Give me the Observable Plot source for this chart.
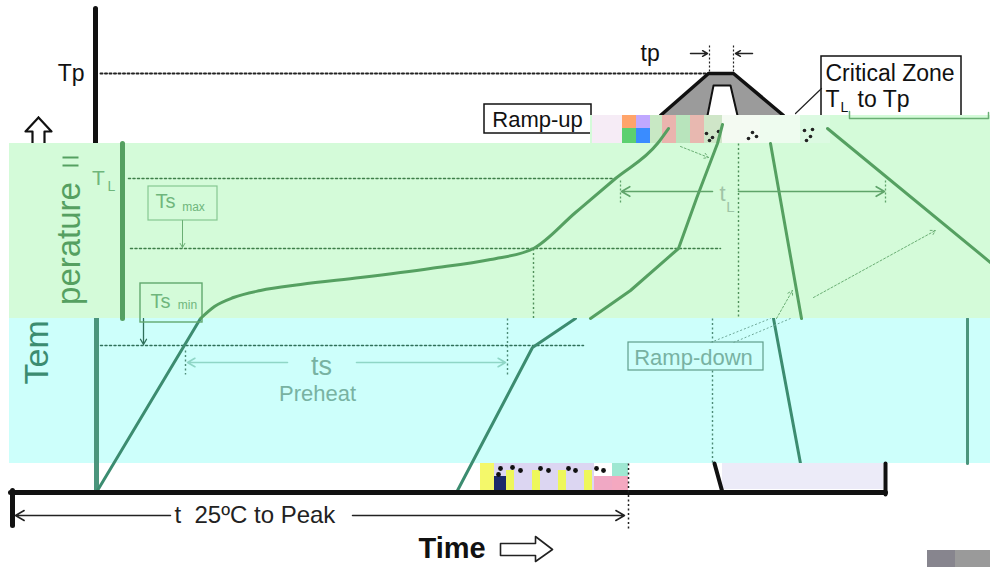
<!DOCTYPE html>
<html>
<head>
<meta charset="utf-8">
<script src="https://cdn.jsdelivr.net/npm/d3@7"></script>
<script src="https://cdn.jsdelivr.net/npm/@observablehq/plot@0.6"></script>
<style>
  html, body { margin: 0; padding: 0; background: #ffffff; }
  #chart svg { display: block; }
</style>
</head>
<body>
<div id="chart"></div>
<script>
// Schematic reflow profile, values in schematic units
// (time along x, temperature level along y, top = hot).

// ---- top (original) part ----
const axisTop = [{t: 95, a: 8}, {t: 95, a: 143}];
const tpLevel = [{t: 100, a: 73}, {t: 708, a: 73}];
const peakOuter = [{t: 660, a: 115}, {t: 708, a: 73}, {t: 733, a: 73}, {t: 783, a: 115}];
const peakInner = [{t: 707, a: 115}, {t: 713, a: 85}, {t: 730, a: 85}, {t: 737, a: 115}];
const tpTicks = [
  {t: 709, a1: 45, a2: 73}, {t: 733, a1: 45, a2: 73}
];
const tpArrows = [
  {t1: 690, t2: 707, a: 53}, {t1: 752, t2: 735, a: 53}
];
const rampUpBox = [{t1: 484, t2: 591, a1: 104, a2: 133}];
const criticalBox = [{t1: 821, t2: 961, a1: 56, a2: 130}];
const criticalPointer = [{t: 821, a: 88}, {t: 795, a: 113}];
const rampUpPointers = [
  {t1: 592, a1: 117, t2: 622, a2: 128},
  {t1: 592, a1: 120, t2: 610, a2: 140}
];
const labelsRight = [{t: 84, a: 73, s: "Tp"}];
const labelsLeft = [
  {t: 640, a: 53, s: "tp"},
  {t: 825, a: 73, s: "Critical Zone"},
  {t: 825, a: 99, s: "T"},
  {t: 857, a: 99, s: "to Tp"}
];
const topSub = [{t: 840, a: 107, s: "L"}];
const upArrow = [
  {t: 38, a: 117}, {t: 51, a: 131}, {t: 44, a: 131}, {t: 44, a: 146},
  {t: 32, a: 146}, {t: 32, a: 131}, {t: 25, a: 131}, {t: 38, a: 117}
];

// ---- green (shifted copy) band ----
const greenBand = [
  {t1: 9, t2: 990, a1: 143, a2: 318},
  {t1: 590, t2: 990, a1: 115, a2: 143}
];
const greenStep = [{t: 849, a: 111}, {t: 849, a: 118}, {t: 988, a: 118}, {t: 988, a: 112}];
const glitchTop = [
  {t1: 592, t2: 622, a1: 115, a2: 143, c: "#f6ecf6"},
  {t1: 622, t2: 636, a1: 115, a2: 128, c: "#ffa46a"},
  {t1: 636, t2: 650, a1: 115, a2: 128, c: "#c0a8ff"},
  {t1: 622, t2: 636, a1: 128, a2: 143, c: "#5cd070"},
  {t1: 636, t2: 650, a1: 128, a2: 143, c: "#3a8cff"},
  {t1: 650, t2: 662, a1: 115, a2: 143, c: "#c8e8c4"},
  {t1: 662, t2: 676, a1: 115, a2: 143, c: "#eab4ae"},
  {t1: 676, t2: 690, a1: 115, a2: 143, c: "#b8e4bc"},
  {t1: 690, t2: 704, a1: 115, a2: 143, c: "#e8b8b0"},
  {t1: 704, t2: 722, a1: 115, a2: 143, c: "#cfe6c8"},
  {t1: 722, t2: 760, a1: 115, a2: 143, c: "#f4faf2"},
  {t1: 760, t2: 800, a1: 115, a2: 143, c: "#eefcef"},
  {t1: 800, t2: 830, a1: 115, a2: 143, c: "#dcfae2"}
];
const glitchDots = [
  {t: 706, a: 133}, {t: 712, a: 137}, {t: 718, a: 131}, {t: 709, a: 140},
  {t: 752, a: 132}, {t: 748, a: 138}, {t: 756, a: 136},
  {t: 804, a: 130}, {t: 810, a: 136}, {t: 806, a: 140}, {t: 812, a: 129}
];
const axisGreen = [{t: 122, a: 143}, {t: 122, a: 318}];
const tlLevel = [{t: 128, a: 178}, {t: 613, a: 178}];
const tsmaxLevel = [{t: 130, a: 248}, {t: 720, a: 248}];
const tsmaxBox = [{t1: 148, t2: 217, a1: 186, a2: 220}];
const tsminBox = [{t1: 140, t2: 202, a1: 283, a2: 322}];
const tsmaxArrow = [{t1: 182, a1: 220, t2: 182, a2: 247}];
const profileGreenA = [
  {t: 200, a: 318}, {t: 214, a: 306}, {t: 233, a: 297}, {t: 260, a: 290},
  {t: 300, a: 284}, {t: 360, a: 277}, {t: 430, a: 268}, {t: 490, a: 259},
  {t: 533, a: 248}, {t: 575, a: 212}, {t: 615, a: 178}, {t: 657, a: 143}, {t: 668, a: 128}
];
const profileGreenB = [
  {t: 590, a: 318}, {t: 630, a: 290}, {t: 678, a: 248}, {t: 696, a: 198},
  {t: 717, a: 143}, {t: 722, a: 124}
];
const downGreenA = [{t: 770, a: 143}, {t: 801, a: 318}];
const downGreenB = [{t: 827, a: 128}, {t: 990, a: 262}];
const vDotGreen = [
  {t: 533, a1: 248, a2: 318}, {t: 738, a1: 143, a2: 318}
];
const tlArrows = [
  {t1: 712, t2: 621, a: 191}, {t1: 738, t2: 884, a: 191}
];
const tlTicks = [
  {t: 620, a1: 180, a2: 204}, {t: 885, a1: 180, a2: 204}
];
const dotArrowsGreen = [
  {t1: 813, a1: 297, t2: 935, a2: 230},
  {t1: 680, a1: 146, t2: 708, a2: 157},
  {t1: 776, a1: 318, t2: 792, a2: 290}
];
const greenLabels = [
  {t: 98, a: 178, s: "T", size: 21},
  {t: 165, a: 201, s: "Ts", size: 20},
  {t: 160, a: 301, s: "Ts", size: 20},
  {t: 722, a: 193, s: "t", size: 22}
];
const greenSubs = [
  {t: 111, a: 186, s: "L", size: 14},
  {t: 193, a: 207, s: "max", size: 12},
  {t: 187, a: 305, s: "min", size: 12},
  {t: 730, a: 207, s: "L", size: 15}
];
const yTitleGreen = [{t: 69, a: 243, s: "perature"}];
const yArrowGreen = [{t1: 62, t2: 78, a: 157}, {t1: 62, t2: 78, a: 165}];

// ---- cyan (shifted copy) band ----
const cyanBand = [{t1: 9, t2: 990, a1: 318, a2: 463}];
const axisCyan = [{t: 96, a: 318}, {t: 96, a: 490}];
const tsminLevel = [{t: 100, a: 345}, {t: 583, a: 345}];
const tsminArrow = [{t1: 143, a1: 318, t2: 143, a2: 344}];
const profileCyanA = [{t: 97, a: 490}, {t: 200, a: 318}];
const profileCyanB = [{t: 457, a: 490}, {t: 532, a: 347}, {t: 575, a: 318}];
const downCyan = [{t: 773, a: 318}, {t: 800, a: 463}];
const rightCyan = [{t: 967, a: 318}, {t: 967, a: 463}];
const tsArrows = [
  {t1: 287, t2: 187, a: 362}, {t1: 356, t2: 505, a: 362}
];
const vDotCyan = [
  {t: 185, a1: 350, a2: 374}, {t: 507, a1: 318, a2: 376},
  {t: 712, a1: 318, a2: 342}, {t: 712, a1: 370, a2: 463}
];
const rampDownBox = [{t1: 628, t2: 763, a1: 342, a2: 370}];
const rampDownPointers = [
  {t1: 710, a1: 342, t2: 770, a2: 318},
  {t1: 733, a1: 342, t2: 790, a2: 318}
];
const cyanLabels = [
  {t: 321, a: 366, s: "ts", size: 27},
  {t: 317, a: 393, s: "Preheat", size: 22},
  {t: 693, a: 357, s: "Ramp-down", size: 22}
];
const yTitleCyan = [{t: 37, a: 384, s: "Temperature"}];

// ---- bottom (original) part ----
const lavenderBox = [{t1: 722, t2: 883, a1: 463, a2: 489}];
const boxEdges = [
  [{t: 714, a: 463}, {t: 722, a: 492}],
  [{t: 885, a: 463}, {t: 885, a: 494}]
];
const glitchBottom = [
  {t1: 480, t2: 628, a1: 463, a2: 490, c: "#dcd6f2"},
  {t1: 480, t2: 494, a1: 463, a2: 490, c: "#f4f86a"},
  {t1: 506, t2: 514, a1: 470, a2: 490, c: "#eef75a"},
  {t1: 532, t2: 540, a1: 470, a2: 490, c: "#eef75a"},
  {t1: 558, t2: 566, a1: 470, a2: 490, c: "#eef75a"},
  {t1: 584, t2: 592, a1: 470, a2: 490, c: "#eef75a"},
  {t1: 494, t2: 506, a1: 476, a2: 490, c: "#1c2a6a"},
  {t1: 594, t2: 612, a1: 463, a2: 476, c: "#ffffff"},
  {t1: 594, t2: 612, a1: 476, a2: 490, c: "#f0a8c4"},
  {t1: 612, t2: 628, a1: 463, a2: 476, c: "#9ee8d2"},
  {t1: 612, t2: 628, a1: 476, a2: 490, c: "#f4a8c0"}
];
const glitchBottomDots = [
  {t: 500, a: 468}, {t: 512, a: 467}, {t: 520, a: 470}, {t: 540, a: 468},
  {t: 548, a: 470}, {t: 568, a: 468}, {t: 575, a: 470}, {t: 596, a: 468},
  {t: 603, a: 470}, {t: 498, a: 474}
];
const xAxis = [{t: 10, a: 492}, {t: 885, a: 492}];
const xAxisLeft = [{t: 12, a: 490}, {t: 12, a: 525}];
const peakArrows = [
  {t1: 170, t2: 15, a: 515}, {t1: 352, t2: 624, a: 515}
];
const peakTick = [{t: 628, a1: 463, a2: 528}];
const timeArrow = [
  {t: 500, a: 543}, {t: 535, a: 543}, {t: 535, a: 536}, {t: 552, a: 549},
  {t: 535, a: 561}, {t: 535, a: 555}, {t: 500, a: 555}, {t: 500, a: 543}
];
const grayBlocks = [
  {t1: 927, t2: 955, a1: 550, a2: 567, c: "#87858e"},
  {t1: 955, t2: 990, a1: 550, a2: 567, c: "#9a9a9a"}
];

// ---- colours ----
const GREEN_BG = "#d4fbd9", CYAN_BG = "#cdfffb";
const G_LINE = "#55a061", G_LIGHT = "#86c892", G_TEXT = "#6fb67c";
const C_LINE = "#3c8c70", C_LIGHT = "#8fd6c6", C_TEXT = "#78b2a2";
const DOT = "2,2.5";
const FONT = "'Liberation Sans', Arial, Helvetica, sans-serif";

const line = (data, opts) => Plot.line(data, {x: "t", y: "a", ...opts});
const rect = (data, opts) => Plot.rect(data, {x1: "t1", x2: "t2", y1: "a1", y2: "a2", ...opts});
const vrule = (data, opts) => Plot.link(data, {x1: "t", x2: "t", y1: "a1", y2: "a2", ...opts});
const arrow = (data, opts) => Plot.arrow(data, {x1: "t1", x2: "t2", y1: "a", y2: "a", ...opts});

const chart = Plot.plot({
  width: 990,
  height: 567,
  margin: 0,
  x: {domain: [0, 990], range: [0, 990], axis: null},
  y: {domain: [0, 567], range: [0, 567], axis: null},
  style: {fontFamily: FONT, background: "#ffffff", overflow: "hidden"},
  marks: [
    // top section
    line(upArrow, {stroke: "#111", strokeWidth: 2.2, fill: "#fff"}),
    line(axisTop, {stroke: "#111", strokeWidth: 5}),
    line(tpLevel, {stroke: "#222", strokeWidth: 2, strokeDasharray: DOT}),
    Plot.areaY(peakOuter, {x: "t", y1: 115, y2: "a", fill: "#9b9b9b"}),
    Plot.areaY(peakInner, {x: "t", y1: 115, y2: "a", fill: "#ffffff"}),
    line(peakInner, {stroke: "#111", strokeWidth: 2}),
    line(peakOuter, {stroke: "#111", strokeWidth: 3.5}),
    vrule(tpTicks, {stroke: "#222", strokeWidth: 1.2, strokeDasharray: "2,2"}),
    arrow(tpArrows, {stroke: "#222", strokeWidth: 1.5, headLength: 9}),
    rect(rampUpBox, {fill: "#fff", stroke: "#111", strokeWidth: 1.5}),
    Plot.text(["Ramp-up"], {x: 537, y: 119, text: d => d, fontSize: 22, fill: "#111"}),
    rect(criticalBox, {fill: "#fff", stroke: "#111", strokeWidth: 1.5}),
    line(criticalPointer, {stroke: "#222", strokeWidth: 1.2}),
    Plot.link(rampUpPointers, {x1: "t1", y1: "a1", x2: "t2", y2: "a2", stroke: "#333", strokeWidth: 1.2}),
    Plot.text(labelsRight, {x: "t", y: "a", text: "s", textAnchor: "end", fontSize: 23, fill: "#111"}),
    Plot.text(labelsLeft, {x: "t", y: "a", text: "s", textAnchor: "start", fontSize: 23, fill: "#111"}),
    Plot.text(topSub, {x: "t", y: "a", text: "s", textAnchor: "start", fontSize: 14, fill: "#111"}),

    // cyan band
    rect(cyanBand, {fill: CYAN_BG}),
    Plot.text(yTitleCyan, {x: "t", y: "a", text: "s", rotate: -90, textAnchor: "start", fontSize: 34, fill: C_LINE}),
    line(axisCyan, {stroke: "#4b957c", strokeWidth: 5}),
    line(tsminLevel, {stroke: "#2f6f5a", strokeWidth: 1.5, strokeDasharray: DOT}),
    Plot.arrow(tsminArrow, {x1: "t1", y1: "a1", x2: "t2", y2: "a2", stroke: "#2f6f5a", strokeWidth: 1.3, headLength: 7}),
    line(profileCyanA, {stroke: C_LINE, strokeWidth: 3}),
    line(profileCyanB, {stroke: C_LINE, strokeWidth: 3}),
    line(downCyan, {stroke: C_LINE, strokeWidth: 3}),
    line(rightCyan, {stroke: "#4b957c", strokeWidth: 3}),
    arrow(tsArrows, {stroke: C_LIGHT, strokeWidth: 1.6, headLength: 8}),
    vrule(vDotCyan, {stroke: "#4c8a76", strokeWidth: 1.4, strokeDasharray: DOT}),
    rect(rampDownBox, {fill: "none", stroke: "#5f9d8b", strokeWidth: 1.2}),
    Plot.link(rampDownPointers, {x1: "t1", y1: "a1", x2: "t2", y2: "a2", stroke: "#6ea898", strokeWidth: 1, strokeDasharray: "2,2"}),
    Plot.text(cyanLabels, {x: "t", y: "a", text: "s", fontSize: d => d.size, fill: C_TEXT}),

    // bottom section
    rect(lavenderBox, {fill: "#ecebf8"}),
    ...boxEdges.map(e => line(e, {stroke: "#111", strokeWidth: 4})),
    rect(glitchBottom, {fill: "c"}),
    Plot.dot(glitchBottomDots, {x: "t", y: "a", r: 2.4, fill: "#111"}),
    line(xAxis, {stroke: "#111", strokeWidth: 5}),
    line(xAxisLeft, {stroke: "#111", strokeWidth: 5}),
    arrow(peakArrows, {stroke: "#222", strokeWidth: 1.5, headLength: 10}),
    vrule(peakTick, {stroke: "#222", strokeWidth: 1.5, strokeDasharray: DOT}),
    Plot.text(["t  25ºC to Peak"], {x: 174, y: 515, text: d => d, textAnchor: "start", fontSize: 24, fill: "#222"}),
    Plot.text(["Time"], {x: 418, y: 548, text: d => d, textAnchor: "start", fontSize: 29, fontWeight: "bold", fill: "#111"}),
    line(timeArrow, {stroke: "#222", strokeWidth: 1.6, fill: "#fff"}),
    rect(grayBlocks, {fill: "c"}),

    // green band (drawn last, on top)
    rect(greenBand, {fill: GREEN_BG}),
    line(greenStep, {stroke: "#6aae74", strokeWidth: 1.5}),
    rect(glitchTop, {fill: "c"}),
    Plot.dot(glitchDots, {x: "t", y: "a", r: 1.8, fill: "#222"}),
    Plot.text(yTitleGreen, {x: "t", y: "a", text: "s", rotate: -90, fontSize: 33, fill: G_LINE}),
    Plot.link(yArrowGreen, {x1: "t1", x2: "t2", y1: "a", y2: "a", stroke: G_LINE, strokeWidth: 2}),
    line(axisGreen, {stroke: G_LINE, strokeWidth: 5}),
    line(tlLevel, {stroke: "#3f7f4a", strokeWidth: 1.5, strokeDasharray: DOT}),
    line(tsmaxLevel, {stroke: "#3f7f4a", strokeWidth: 1.5, strokeDasharray: DOT}),
    rect(tsmaxBox, {fill: "none", stroke: G_LIGHT, strokeWidth: 1.2}),
    rect(tsminBox, {fill: "none", stroke: "#62a86e", strokeWidth: 1.4}),
    Plot.arrow(tsmaxArrow, {x1: "t1", y1: "a1", x2: "t2", y2: "a2", stroke: "#6aae74", strokeWidth: 1, headLength: 7}),
    line(profileGreenA, {stroke: G_LINE, strokeWidth: 3, curve: "monotone-x"}),
    line(profileGreenB, {stroke: G_LINE, strokeWidth: 3}),
    line(downGreenA, {stroke: G_LINE, strokeWidth: 3}),
    line(downGreenB, {stroke: G_LINE, strokeWidth: 3}),
    vrule(vDotGreen, {stroke: "#4f8f5a", strokeWidth: 1.4, strokeDasharray: DOT}),
    arrow(tlArrows, {stroke: "#5fa46a", strokeWidth: 1.6, headLength: 9}),
    vrule(tlTicks, {stroke: "#5fa46a", strokeWidth: 1.3, strokeDasharray: "2,2"}),
    Plot.arrow(dotArrowsGreen, {x1: "t1", y1: "a1", x2: "t2", y2: "a2", stroke: "#6aae74", strokeWidth: 1, strokeDasharray: "2,2", headLength: 8}),
    Plot.text(greenLabels, {x: "t", y: "a", text: "s", fontSize: d => d.size, fill: d => d.s === "t" ? "#9fc4a6" : G_TEXT}),
    Plot.text(greenSubs, {x: "t", y: "a", text: "s", fontSize: d => d.size, fill: d => d.s === "L" && d.t > 700 ? "#9fc4a6" : G_TEXT})
  ]
});
document.getElementById("chart").appendChild(chart);
</script>
</body>
</html>
